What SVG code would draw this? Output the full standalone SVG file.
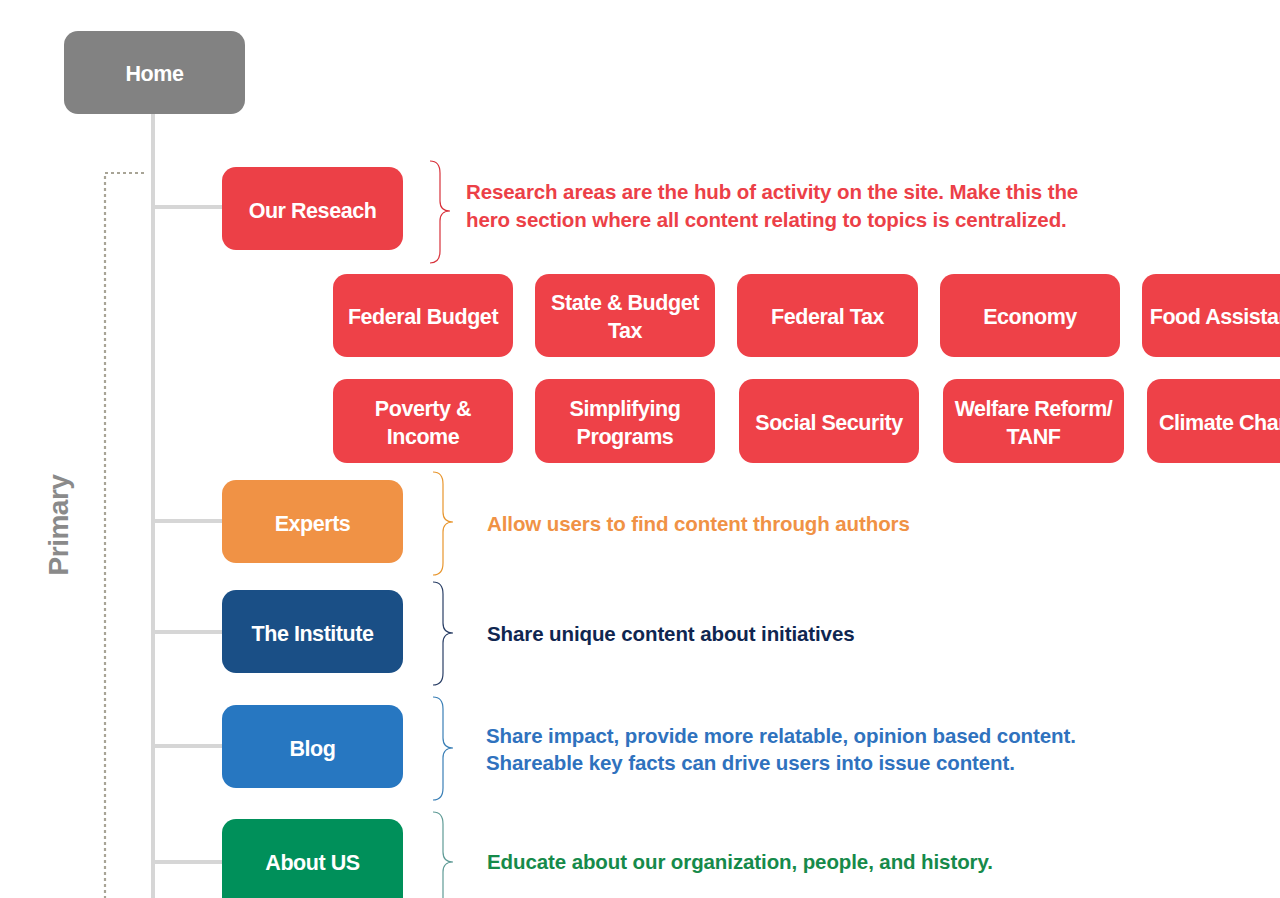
<svg xmlns="http://www.w3.org/2000/svg" width="1280" height="898" viewBox="0 0 1280 898">
<style>
.lbl{font-family:"Liberation Sans",Arial,sans-serif;font-weight:bold;font-size:21.5px;fill:#fff;text-anchor:middle;letter-spacing:-0.45px}
.note{font-family:"Liberation Sans",Arial,sans-serif;font-weight:bold;font-size:20.5px;letter-spacing:-0.1px}
.red{fill:#ec4047}
.sub{fill:#ee4148}
.trunk{stroke:#d6d6d6;stroke-width:4;fill:none}
.brace{fill:none;stroke-width:1.2}
</style>
<rect width="1280" height="898" fill="#fff"/>
<g id="connectors">
<line class="trunk" x1="153" y1="114" x2="153" y2="898"/>
<line class="trunk" x1="153" y1="207" x2="222" y2="207"/>
<line class="trunk" x1="153" y1="521" x2="222" y2="521"/>
<line class="trunk" x1="153" y1="632" x2="222" y2="632"/>
<line class="trunk" x1="153" y1="746" x2="222" y2="746"/>
<line class="trunk" x1="153" y1="862" x2="222" y2="862"/>
<path d="M144,173 H105 V898" fill="none" stroke="#a8a496" stroke-width="2.2" stroke-dasharray="3,3"/>
</g>
<g id="primary-label">
<text transform="translate(68,525) rotate(-90)" font-family="Liberation Sans,Arial,sans-serif" font-weight="bold" font-size="28" fill="#8a8a8a" text-anchor="middle" letter-spacing="-0.5">Primary</text>
</g>
<g id="home">
<rect x="64" y="31" width="181" height="83" rx="14" fill="#828282"/>
<text class="lbl" x="154.5" y="81">Home</text>
</g>
<g id="our-research">
<rect x="222" y="167" width="181" height="83" rx="14" class="red"/>
<text class="lbl" x="312.5" y="218">Our Reseach</text>
<path class="brace" stroke="#d8313a" d="M430,161 Q440,161 440,173 V201 Q440,211 450,211 Q440,211 440,221 V251 Q440,263 430,263"/>
<text class="note" fill="#ec4047" x="466" y="199">Research areas are the hub of activity on the site. Make this the</text>
<text class="note" fill="#ec4047" x="466" y="227">hero section where all content relating to topics is centralized.</text>
</g>
<g id="federal-budget"><rect x="333" y="274" width="180" height="83" rx="14" class="sub"/><text class="lbl" x="423" y="324">Federal Budget</text></g>
<g id="state-budget-tax"><rect x="535" y="274" width="180" height="83" rx="14" class="sub"/><text class="lbl" x="625" y="310">State &amp; Budget</text><text class="lbl" x="625" y="338">Tax</text></g>
<g id="federal-tax"><rect x="737" y="274" width="181" height="83" rx="14" class="sub"/><text class="lbl" x="827.5" y="324">Federal Tax</text></g>
<g id="economy"><rect x="940" y="274" width="180" height="83" rx="14" class="sub"/><text class="lbl" x="1030" y="324">Economy</text></g>
<g id="food-assistance"><rect x="1142" y="274" width="180" height="83" rx="14" class="sub"/><text class="lbl" x="1232" y="324">Food Assistance</text></g>
<g id="poverty-income"><rect x="333" y="379" width="180" height="84" rx="14" class="sub"/><text class="lbl" x="423" y="416">Poverty &amp;</text><text class="lbl" x="423" y="444">Income</text></g>
<g id="simplifying-programs"><rect x="535" y="379" width="180" height="84" rx="14" class="sub"/><text class="lbl" x="625" y="416">Simplifying</text><text class="lbl" x="625" y="444">Programs</text></g>
<g id="social-security"><rect x="739" y="379" width="180" height="84" rx="14" class="sub"/><text class="lbl" x="829" y="430">Social Security</text></g>
<g id="welfare-reform"><rect x="943" y="379" width="181" height="84" rx="14" class="sub"/><text class="lbl" x="1033.5" y="416">Welfare Reform/</text><text class="lbl" x="1033.5" y="444">TANF</text></g>
<g id="climate-change"><rect x="1147" y="379" width="180" height="84" rx="14" class="sub"/><text class="lbl" x="1237" y="430">Climate Change</text></g>
<g id="experts">
<rect x="222" y="480" width="181" height="83" rx="14" fill="#f09245"/>
<text class="lbl" x="312.5" y="531">Experts</text>
<path class="brace" stroke="#e8962e" d="M433,472 Q443,472 443,484 V512 Q443,522 453,522 Q443,522 443,532 V563 Q443,575 433,575"/>
<text class="note" fill="#f09245" x="487" y="531">Allow users to find content through authors</text>
</g>
<g id="the-institute">
<rect x="222" y="590" width="181" height="83" rx="14" fill="#1a4f86"/>
<text class="lbl" x="312.5" y="641">The Institute</text>
<path class="brace" stroke="#2a3f66" d="M433,582 Q443,582 443,594 V623 Q443,633 453,633 Q443,633 443,643 V673 Q443,685 433,685"/>
<text class="note" fill="#0f2650" x="487" y="641">Share unique content about initiatives</text>
</g>
<g id="blog">
<rect x="222" y="705" width="181" height="83" rx="14" fill="#2777c1"/>
<text class="lbl" x="312.5" y="756">Blog</text>
<path class="brace" stroke="#3a7fb6" d="M433,697 Q443,697 443,709 V738 Q443,748 453,748 Q443,748 443,758 V788 Q443,800 433,800"/>
<text class="note" fill="#2f72be" x="486" y="743">Share impact, provide more relatable, opinion based content.</text>
<text class="note" fill="#2f72be" x="486" y="770">Shareable key facts can drive users into issue content.</text>
</g>
<g id="about-us">
<rect x="222" y="819" width="181" height="100" rx="14" fill="#00905a"/>
<text class="lbl" x="312.5" y="870">About US</text>
<path class="brace" stroke="#5f9b96" d="M433,812 Q443,812 443,824 V852 Q443,862 453,862 Q443,862 443,872 V898"/>
<text class="note" fill="#168a4a" x="487" y="869">Educate about our organization, people, and history.</text>
</g>
</svg>
